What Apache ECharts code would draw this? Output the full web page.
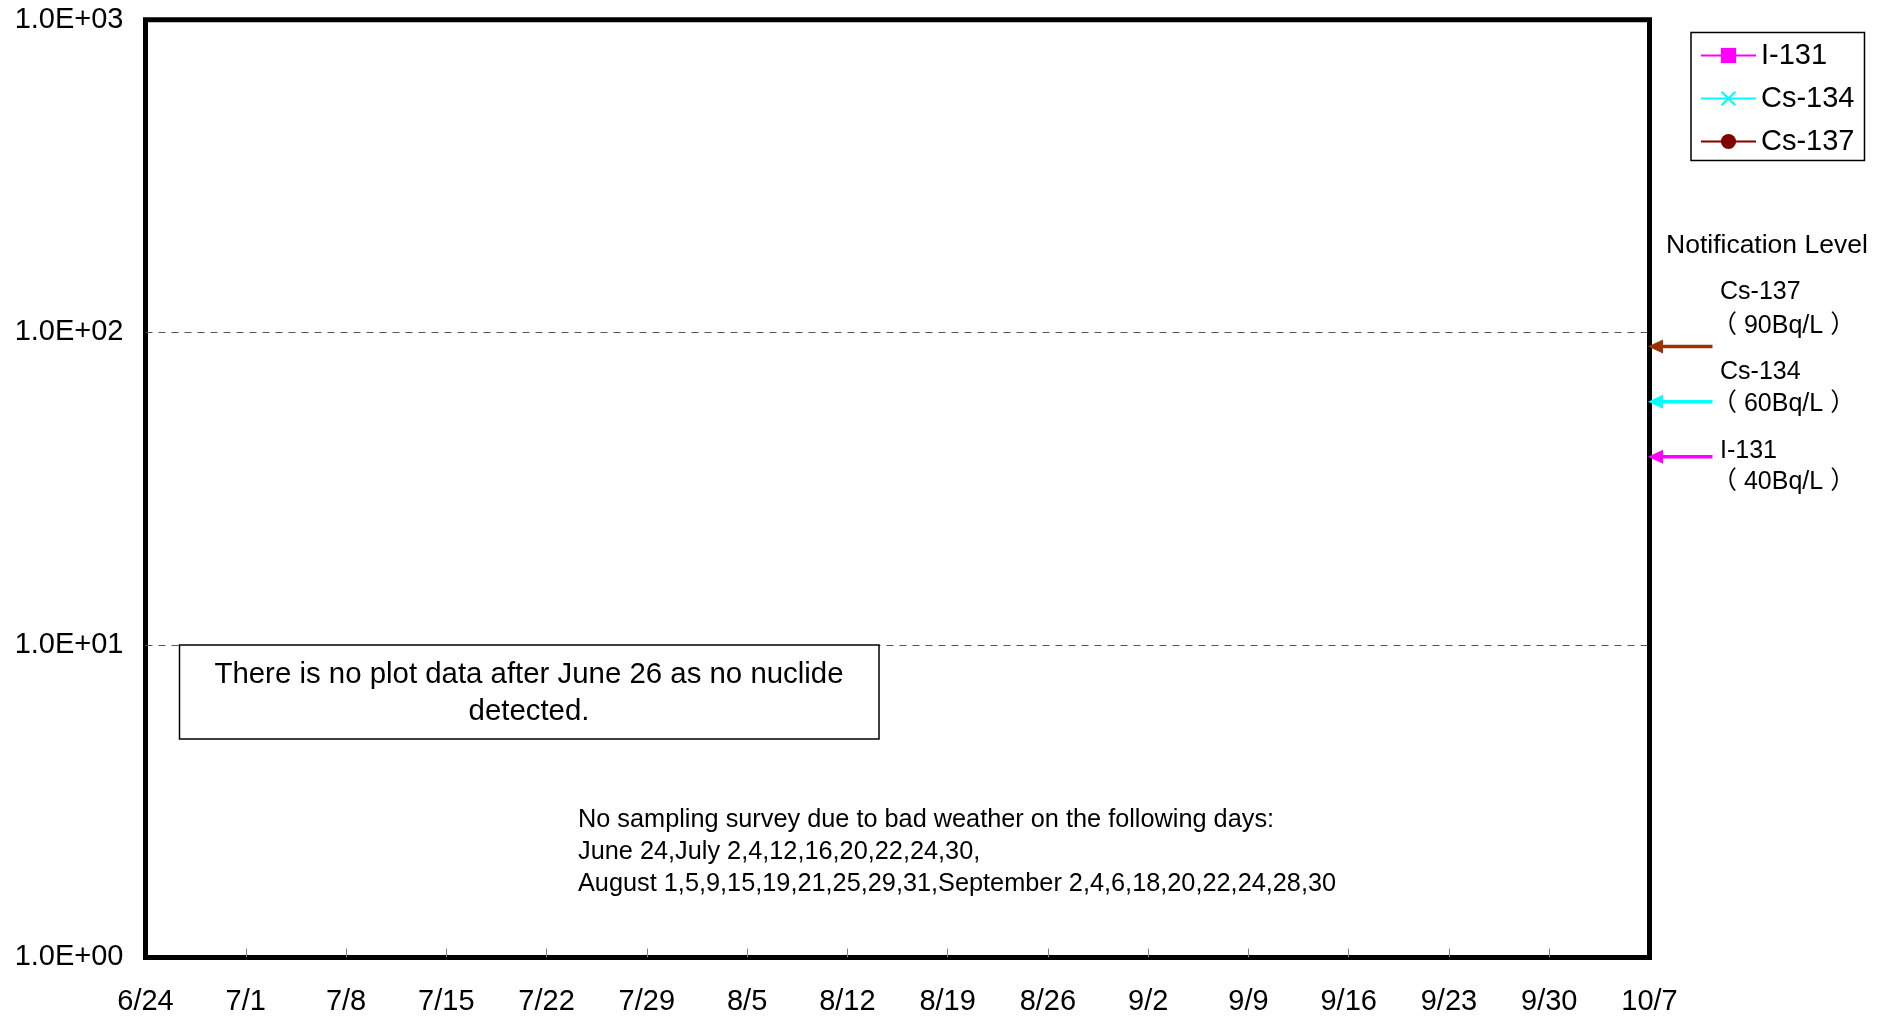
<!DOCTYPE html>
<html><head><meta charset="utf-8">
<script src="https://cdn.jsdelivr.net/npm/echarts@6/dist/echarts.min.js"></script>
<style>html,body{margin:0;padding:0;background:#fff}#c{width:1888px;height:1017px}</style>
</head><body><div id="c"></div>
<script>
// ---- data ----
const xTickLabels = ['6/24','7/1','7/8','7/15','7/22','7/29','8/5','8/12','8/19','8/26','9/2','9/9','9/16','9/23','9/30','10/7'];
const xTickDays = [0,7,14,21,28,35,42,49,56,63,70,77,84,91,98,105]; // days after 6/24
const yTickLabels = ['1.0E+00','1.0E+01','1.0E+02','1.0E+03'];
const seriesNames = ['I-131','Cs-134','Cs-137'];
// No nuclide detected in the plotted period -> no points
const i131Values = [];
const cs134Values = [];
const cs137Values = [];
const notifNames = ['Cs-137','Cs-134','I-131'];
const notifLevels = [90, 60, 40];
const notifTexts = ['（ 90Bq/L ）','（ 60Bq/L ）','（ 40Bq/L ）'];
const noteLines = [
  'No sampling survey due to bad weather on the following days:',
  'June 24,July 2,4,12,16,20,22,24,30,',
  'August 1,5,9,15,19,21,25,29,31,September 2,4,6,18,20,22,24,28,30'
];
const boxLines = ['There is no plot data after June 26 as no nuclide', 'detected.'];

// ---- styles ----
const FF = "'Liberation Sans', Arial, 'Noto Sans CJK JP', sans-serif";
const arrowColors = ['#993300', '#00FFFF', '#FF00FF'];
const GL = 145.5, GT = 19.7, GW = 1504, GH = 939;

const chart = echarts.init(document.getElementById('c'), null, {renderer: 'canvas'});

const graphics = [];
graphics.push({type:'text', x:1666, y:246, style:{text:'Notification Level', font:'26.5px ' + FF, fill:'#000', verticalAlign:'middle'}});
const nameY = [292.5, 372, 451];
const valY = [326, 404.5, 482];
for (let i = 0; i < 3; i++) {
  graphics.push({type:'text', x:1720, y:nameY[i], style:{text:notifNames[i], font:'25px ' + FF, fill:'#000', verticalAlign:'middle'}});
  graphics.push({type:'text', x:1712, y:valY[i], style:{text:notifTexts[i], font:'25px ' + FF, fill:'#000', verticalAlign:'middle'}});
}
// text box
graphics.push({type:'rect', shape:{x:179.5, y:645, width:699.5, height:94}, style:{fill:'#fff', stroke:'#000', lineWidth:1.5}, z:10});
graphics.push({type:'text', x:529, y:675, style:{text:boxLines[0], font:'29.4px ' + FF, fill:'#000', align:'center', verticalAlign:'middle'}, z:11});
graphics.push({type:'text', x:529, y:712, style:{text:boxLines[1], font:'29.4px ' + FF, fill:'#000', align:'center', verticalAlign:'middle'}, z:11});
// note
const noteY = [820, 852, 884];
for (let i = 0; i < 3; i++) {
  graphics.push({type:'text', x:578, y:noteY[i], style:{text:noteLines[i], font:'25.3px ' + FF, fill:'#000', verticalAlign:'middle'}});
}

const option = {
  animation: false,
  backgroundColor: '#fff',
  textStyle: {fontFamily: FF},
  grid: {left: GL, top: GT, width: GW, height: GH, show: true, borderColor: '#000', borderWidth: 5, backgroundColor: 'transparent'},
  legend: {
    orient: 'vertical', left: 1691, top: 32.5, data: seriesNames,
    itemWidth: 55, itemHeight: 19, itemGap: 13,
    borderColor: '#000', borderWidth: 1.5, padding: [8, 10, 4, 9],
    backgroundColor: '#fff',
    textStyle: {fontSize: 29, color: '#000', fontFamily: FF, lineHeight: 30}
  },
  xAxis: {
    type: 'value', min: 0, max: 105, interval: 7,
    axisLine: {show: false},
    splitLine: {show: false},
    axisTick: {show: true, inside: true, length: 9, lineStyle: {color: '#808080', width: 1}, customValues: xTickDays.slice(1, -1)},
    axisLabel: {show: true, fontSize: 29, color: '#000', margin: 30.5, fontFamily: FF, showMinLabel: true, showMaxLabel: true,
      customValues: xTickDays,
      formatter: v => xTickLabels[xTickDays.indexOf(Math.round(v))]}
  },
  yAxis: {
    type: 'log', logBase: 10, min: 1, max: 1000,
    axisLine: {show: false},
    axisTick: {show: false},
    axisLabel: {fontSize: 29, color: '#000', margin: 22, fontFamily: FF, showMinLabel: true, showMaxLabel: true,
      padding: [0, 0, 5, 0],
      formatter: v => yTickLabels[Math.round(Math.log10(v))]},
    splitLine: {show: true, showMinLine: false, showMaxLine: false, lineStyle: {color: '#555', width: 1, type: [7, 6]}}
  },
  series: [
    {name: 'I-131', type: 'line', data: i131Values, symbol: 'rect', symbolSize: 15,
      itemStyle: {color: '#FF00FF'}, lineStyle: {color: '#FF00FF', width: 2}},
    {name: 'Cs-134', type: 'line', data: cs134Values,
      symbol: 'path://M0,1 L1,0 L5,4 L9,0 L10,1 L6,5 L10,9 L9,10 L5,6 L1,10 L0,9 L4,5 Z', symbolSize: 15,
      itemStyle: {color: '#00FFFF'}, lineStyle: {color: '#00FFFF', width: 2}},
    {name: 'Cs-137', type: 'line', data: cs137Values, symbol: 'circle', symbolSize: 15,
      itemStyle: {color: '#800000'}, lineStyle: {color: '#800000', width: 2}},
    {name: 'notification', type: 'custom', clip: false, silent: true, z: 20,
      data: notifLevels.map((v, i) => [105, v, i]),
      renderItem: (params, api) => {
        const p = api.coord([api.value(0), api.value(1)]);
        const c = arrowColors[api.value(2)];
        const tip = p[0] - 1.5;
        return {type: 'group', children: [
          {type: 'line', shape: {x1: tip + 12, y1: p[1], x2: p[0] + 63, y2: p[1]}, style: {stroke: c, lineWidth: 3.5}},
          {type: 'polygon', shape: {points: [[tip, p[1]], [tip + 15, p[1] - 7], [tip + 15, p[1] + 7]]}, style: {fill: c}}
        ]};
      }
    }
  ],
  graphic: graphics
};
chart.setOption(option);
</script>
</body></html>
